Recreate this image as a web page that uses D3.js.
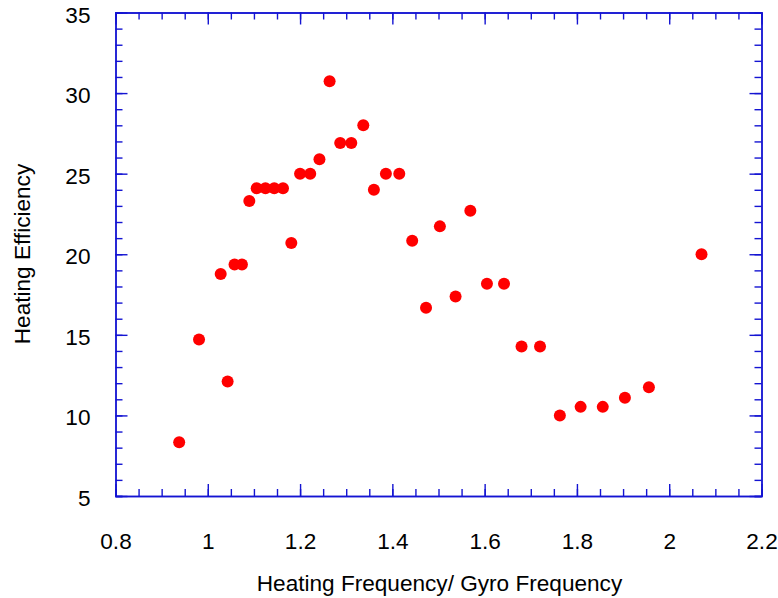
<!DOCTYPE html>
<html>
  <head>
    <script src="https://cdnjs.cloudflare.com/ajax/libs/d3/7.8.5/d3.min.js"></script>
<style>
  body { margin: 0; background: #fff; }
  svg text { font-family: "Liberation Sans", Arial, sans-serif; fill: #000; }
</style>
  </head>
  <body>
    <div id="vis"></div>
    <script type="text/javascript">

        // heating frequency / gyro frequency
        const freqRatio = [0.938, 0.981, 1.028, 1.043, 1.058, 1.074, 1.090, 1.106, 1.125, 1.144,
            1.163, 1.181, 1.200, 1.222, 1.242, 1.264, 1.287, 1.311, 1.337, 1.360,
            1.386, 1.415, 1.443, 1.473, 1.503, 1.537, 1.569, 1.605, 1.642, 1.680,
            1.720, 1.763, 1.808, 1.856, 1.904, 1.956, 2.070];
        // heating efficiency
        const efficiency = [8.33, 14.71, 18.77, 12.1, 19.37, 19.37, 23.3, 24.1, 24.1, 24.1,
            24.1, 20.7, 25.0, 25.0, 25.9, 30.73, 26.9, 26.9, 28.0, 24.0,
            25.0, 25.0, 20.84, 16.68, 21.73, 17.38, 22.7, 18.17, 18.17, 14.27,
            14.27, 9.99, 10.53, 10.53, 11.1, 11.75, 20.0];

        const xTicks = [0.8, 1, 1.2, 1.4, 1.6, 1.8, 2, 2.2];
        const yTicks = [5, 10, 15, 20, 25, 30, 35];
        const xMinor = d3.range(0.8, 2.2001, 0.05);
        const yMinor = d3.range(5, 35.001, 1);

        const width = 778;
        const height = 598;
        const plotLeft = 115.5, plotRight = 761.5, plotTop = 12.5, plotBottom = 496;
        const axisColor = "#1414d2";
        const fontSize = 22.6;

        const svg = d3.select("#vis").append("svg")
            .attr("width", width)
            .attr("height", height);

        var xScale = d3.scaleLinear().domain([0.8, 2.2]).range([plotLeft, plotRight]);
        var yScale = d3.scaleLinear().domain([5, 35]).range([plotBottom, plotTop]);

        function styleAxis(g) {
            g.selectAll("path, line").attr("stroke", axisColor).attr("stroke-width", 1.4);
            g.selectAll("text").attr("font-size", fontSize).attr("fill", "#000");
        }

        // minor ticks first, majors on top
        svg.append("g").attr("transform", "translate(0," + plotBottom + ")")
            .call(d3.axisBottom(xScale).tickValues(xMinor).tickSize(-7).tickFormat(""))
            .call(styleAxis);
        svg.append("g").attr("transform", "translate(0," + plotTop + ")")
            .call(d3.axisTop(xScale).tickValues(xMinor).tickSize(-7).tickFormat(""))
            .call(styleAxis);
        svg.append("g").attr("transform", "translate(" + plotLeft + ",0)")
            .call(d3.axisLeft(yScale).tickValues(yMinor).tickSize(-7).tickFormat(""))
            .call(styleAxis);
        svg.append("g").attr("transform", "translate(" + plotRight + ",0)")
            .call(d3.axisRight(yScale).tickValues(yMinor).tickSize(-7).tickFormat(""))
            .call(styleAxis);

        svg.append("g").attr("transform", "translate(0," + plotBottom + ")")
            .call(d3.axisBottom(xScale).tickValues(xTicks).tickSizeInner(-12).tickSizeOuter(0)
                .tickPadding(37).tickFormat(d3.format("")))
            .call(styleAxis);
        svg.append("g").attr("transform", "translate(0," + plotTop + ")")
            .call(d3.axisTop(xScale).tickValues(xTicks).tickSizeInner(-12).tickSizeOuter(0).tickFormat(""))
            .call(styleAxis);
        svg.append("g").attr("transform", "translate(" + plotLeft + ",0)")
            .call(d3.axisLeft(yScale).tickValues(yTicks).tickSizeInner(-12).tickSizeOuter(0)
                .tickPadding(25))
            .call(styleAxis)
            .selectAll("text").attr("dy", "0.42em");
        svg.append("g").attr("transform", "translate(" + plotRight + ",0)")
            .call(d3.axisRight(yScale).tickValues(yTicks).tickSizeInner(-12).tickSizeOuter(0).tickFormat(""))
            .call(styleAxis);

        // points
        svg.append("g").selectAll("circle")
            .data(freqRatio)
            .join("circle")
            .attr("cx", d => xScale(d))
            .attr("cy", (d, i) => yScale(efficiency[i]))
            .attr("r", 6)
            .attr("fill", "#ff0000");

        // axis titles
        svg.append("text")
            .attr("x", (plotLeft + plotRight) / 2 + 1)
            .attr("y", 591)
            .attr("text-anchor", "middle")
            .attr("font-size", fontSize)
            .text("Heating Frequency/ Gyro Frequency");
        svg.append("text")
            .attr("transform", "translate(30," + 254 + ") rotate(-90)")
            .attr("text-anchor", "middle")
            .attr("font-size", fontSize)
            .text("Heating Efficiency");

    </script>
  </body>
</html>
